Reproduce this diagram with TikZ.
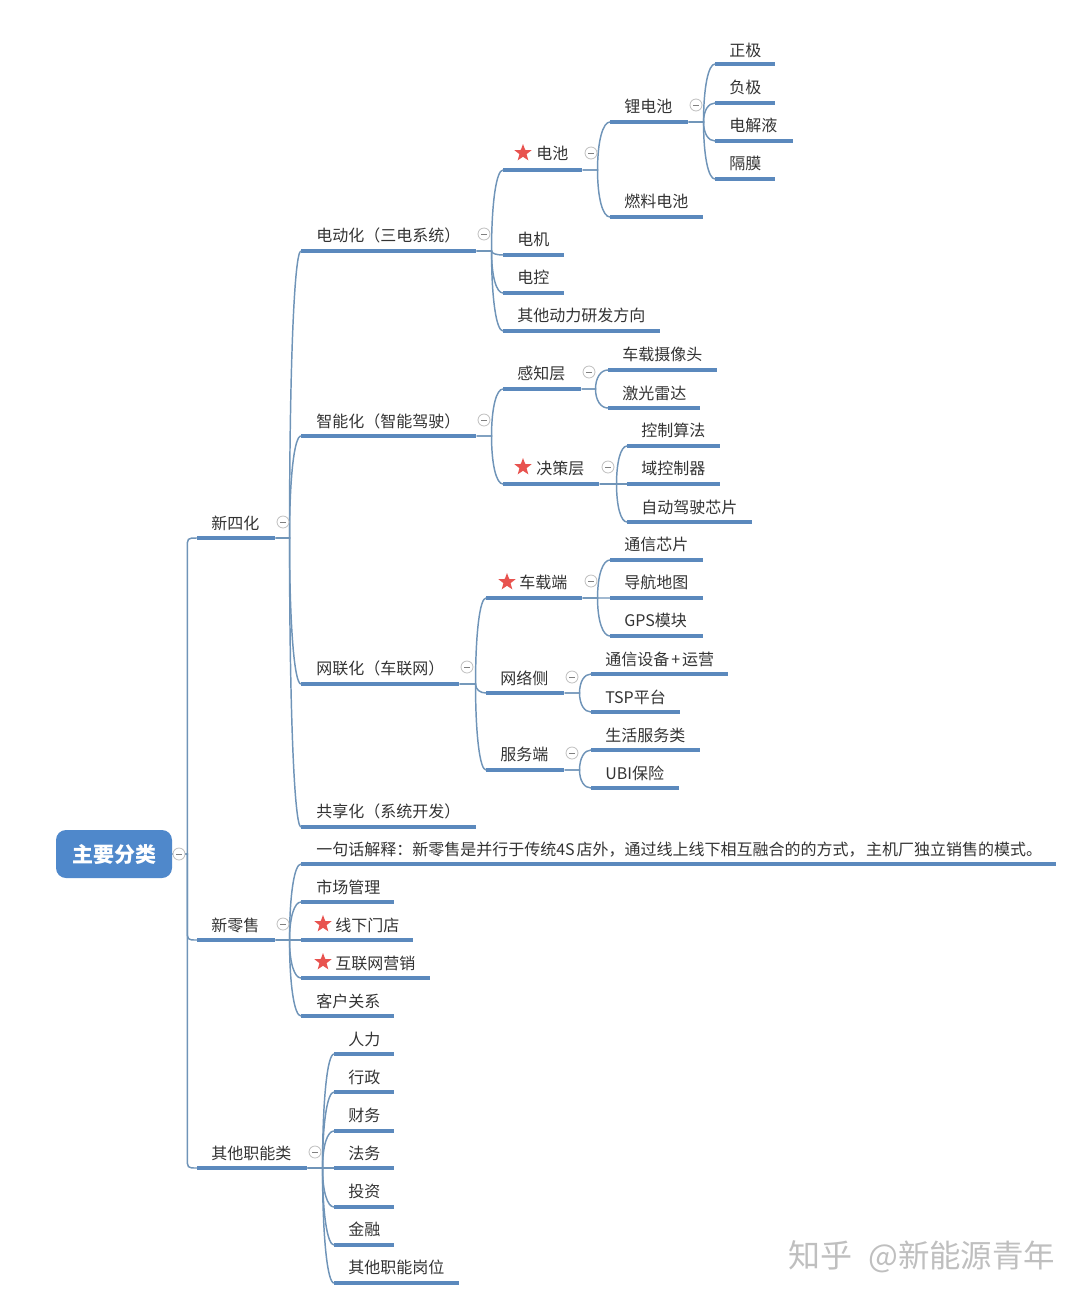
\documentclass[tikz,border=0pt]{standalone}
\usepackage{fontspec}
\setmainfont{Noto Sans CJK SC}
\usetikzlibrary{shapes.geometric,calc}
\definecolor{barblue}{HTML}{5B89BD}
\definecolor{linkblue}{HTML}{6F94B8}
\definecolor{rootblue}{HTML}{4F88CB}
\definecolor{inkgray}{HTML}{333333}
\definecolor{starred}{HTML}{E8534F}
\tikzset{
  bar/.style={rectangle,fill=barblue,inner sep=0pt,minimum height=3pt,anchor=west,minimum width=#1*0.75pt},
  lab/.style={anchor=west,inner sep=0pt,text=inkgray,font=\fontsize{12}{12}\selectfont},
  mark star/.style={star,star points=5,star point ratio=2.4,fill=starred,inner sep=0pt,minimum size=13.5pt},
  fold/.style={circle,draw=gray!50,fill=white,line width=0.6pt,inner sep=0pt,minimum size=9pt,text=gray},
  link/.style={draw=linkblue,line width=1.1pt},
  branch/.style={to path={(\tikztostart.east) -- ++(#1,0) coordinate (j) .. controls ($(j)!0.6!(j |- \tikztotarget.west)$) and ($(\tikztotarget.west)!0.58!(j |- \tikztotarget.west)$) .. (\tikztotarget.west)}},
  trunk/.style={to path={(\tikztostart.east) -- ++(#1,0) coordinate (j) -- ($(j |- \tikztotarget.west)!8pt!(j)$) .. controls (j |- \tikztotarget.west) .. (\tikztotarget.west)}},
}
\newcommand{\foldminus}{\rule[0pt]{4.5pt}{0.6pt}}
\begin{document}
\begin{tikzpicture}[x=0.75pt,y=-0.75pt]
\useasboundingbox (0,0) rectangle (1080,1300);
% root
\node (r) [rectangle,rounded corners=7.5pt,fill=rootblue,text=white,minimum width=87pt,minimum height=36pt,inner sep=0pt,font=\fontsize{15.75}{16}\selectfont\bfseries] at (114,854) {主要分类};
% first level
\node (s1) [bar=78] at (197,538) {};
\node (s2) [bar=78] at (197,940) {};
\node (s3) [bar=110] at (197,1168) {};
\node (s1t) [lab] at (211,523) {新四化};
\node (s2t) [lab] at (211,925) {新零售};
\node (s3t) [lab] at (211,1153) {其他职能类};
% four directions
\node (s11) [bar=175] at (301,251) {};
\node (s12) [bar=175] at (301,436) {};
\node (s13) [bar=158] at (301,684) {};
\node (s14) [bar=175] at (301,827) {};
\node (s11t) [lab] at (316,235) {电动化（三电系统）};
\node (s12t) [lab] at (316,421) {智能化（智能驾驶）};
\node (s13t) [lab] at (316,668) {网联化（车联网）};
\node (s14t) [lab] at (316,811) {共享化（系统开发）};
% three electric
\node (s111) [bar=79] at (503,170) {};
\node (s112) [bar=61] at (503,255) {};
\node (s113) [bar=61] at (503,293) {};
\node (s114) [bar=157] at (503,331) {};
\node (s111s) [mark star] at (523,153) {};
\node (s111t) [lab] at (536,153) {电池};
\node (s112t) [lab] at (517,239) {电机};
\node (s113t) [lab] at (517,277) {电控};
\node (s114t) [lab] at (517,315) {其他动力研发方向};
\node (s1111) [bar=78] at (610,122) {};
\node (s1112) [bar=93] at (610,217) {};
\node (s1111t) [lab] at (624,106) {锂电池};
\node (s1112t) [lab] at (624,201) {燃料电池};
\node (s11111) [bar=60] at (715,64) {};
\node (s11112) [bar=60] at (715,103) {};
\node (s11113) [bar=78] at (715,141) {};
\node (s11114) [bar=60] at (715,179) {};
\node (s11111t) [lab] at (729,50) {正极};
\node (s11112t) [lab] at (729,87) {负极};
\node (s11113t) [lab] at (729,125) {电解液};
\node (s11114t) [lab] at (729,163) {隔膜};
% smart driving
\node (s121) [bar=78] at (503,389) {};
\node (s122) [bar=96] at (503,484) {};
\node (s121t) [lab] at (517,373) {感知层};
\node (s122s) [mark star] at (523,467) {};
\node (s122t) [lab] at (536,468) {决策层};
\node (s1211) [bar=109] at (608,370) {};
\node (s1212) [bar=92] at (608,408) {};
\node (s1211t) [lab] at (622,354) {车载摄像头};
\node (s1212t) [lab] at (622,393) {激光雷达};
\node (s1221) [bar=93] at (627,446) {};
\node (s1222) [bar=93] at (627,484) {};
\node (s1223) [bar=125] at (627,522) {};
\node (s1221t) [lab] at (641,430) {控制算法};
\node (s1222t) [lab] at (641,468) {域控制器};
\node (s1223t) [lab] at (641,507) {自动驾驶芯片};
% connected car
\node (s131) [bar=96] at (486,598) {};
\node (s132) [bar=78] at (486,693) {};
\node (s133) [bar=78] at (486,770) {};
\node (s131s) [mark star] at (507,582) {};
\node (s131t) [lab] at (519,582) {车载端};
\node (s132t) [lab] at (500,678) {网络侧};
\node (s133t) [lab] at (500,754) {服务端};
\node (s1311) [bar=93] at (610,560) {};
\node (s1312) [bar=93] at (610,598) {};
\node (s1313) [bar=93] at (610,636) {};
\node (s1311t) [lab] at (624,544) {通信芯片};
\node (s1312t) [lab] at (624,582) {导航地图};
\node (s1313t) [lab] at (624,620) {GPS模块};
\node (s1321) [bar=137] at (591,674) {};
\node (s1322) [bar=89] at (591,712) {};
\node (s1321t) [lab] at (605,659) {通信设备\kern1.5pt+\kern1.5pt运营};
\node (s1322t) [lab] at (605,697) {TSP平台};
\node (s1331) [bar=109] at (591,750) {};
\node (s1332) [bar=88] at (591,788) {};
\node (s1331t) [lab] at (605,735) {生活服务类};
\node (s1332t) [lab] at (605,773) {UBI保险};
% retail
\node (s21) [bar=755] at (301,864) {};
\node (s22) [bar=93] at (301,902) {};
\node (s23) [bar=112] at (301,940) {};
\node (s24) [bar=129] at (301,978) {};
\node (s25) [bar=93] at (301,1016) {};
\node (s21t) [lab] at (316,850) {一句话解释：新零售是并行于传统4S\kern1.5pt店外，通过线上线下相互融合的的方式，\kern1pt主机厂独立销售的模式。};
\node (s22t) [lab] at (316,887) {市场管理};
\node (s23s) [mark star] at (323,924) {};
\node (s23t) [lab] at (335,925) {线下门店};
\node (s24s) [mark star] at (323,962) {};
\node (s24t) [lab] at (335,963) {互联网营销};
\node (s25t) [lab] at (316,1001) {客户关系};
% other functions
\node (s31) [bar=60] at (334,1054) {};
\node (s32) [bar=60] at (334,1092) {};
\node (s33) [bar=60] at (334,1131) {};
\node (s34) [bar=60] at (334,1168) {};
\node (s35) [bar=60] at (334,1207) {};
\node (s36) [bar=60] at (334,1245) {};
\node (s37) [bar=125] at (334,1283) {};
\node (s31t) [lab] at (348,1039) {人力};
\node (s32t) [lab] at (348,1077) {行政};
\node (s33t) [lab] at (348,1115) {财务};
\node (s34t) [lab] at (348,1153) {法务};
\node (s35t) [lab] at (348,1191) {投资};
\node (s36t) [lab] at (348,1229) {金融};
\node (s37t) [lab] at (348,1267) {其他职能岗位};
%
\path[link] (r) edge[trunk=15] (s1);
\path[link] (r) edge[trunk=15] (s2);
\path[link] (r) edge[trunk=15] (s3);
\path[link] (s1) edge[branch=14] (s11);
\path[link] (s1) edge[branch=14] (s12);
\path[link] (s1) edge[branch=14] (s13);
\path[link] (s1) edge[branch=14] (s14);
\path[link] (s11) edge[branch=15] (s111);
\path[link] (s11) edge[branch=15] (s112);
\path[link] (s11) edge[branch=15] (s113);
\path[link] (s11) edge[branch=15] (s114);
\path[link] (s111) edge[branch=15] (s1111);
\path[link] (s111) edge[branch=15] (s1112);
\path[link] (s1111) edge[branch=15] (s11111);
\path[link] (s1111) edge[branch=15] (s11112);
\path[link] (s1111) edge[branch=15] (s11113);
\path[link] (s1111) edge[branch=15] (s11114);
\path[link] (s12) edge[branch=15] (s121);
\path[link] (s12) edge[branch=15] (s122);
\path[link] (s121) edge[branch=14] (s1211);
\path[link] (s121) edge[branch=14] (s1212);
\path[link] (s122) edge[branch=17] (s1221);
\path[link] (s122) edge[branch=17] (s1222);
\path[link] (s122) edge[branch=17] (s1223);
\path[link] (s13) edge[branch=16] (s131);
\path[link] (s13) edge[branch=16] (s132);
\path[link] (s13) edge[branch=16] (s133);
\path[link] (s131) edge[branch=15] (s1311);
\path[link] (s131) edge[branch=15] (s1312);
\path[link] (s131) edge[branch=15] (s1313);
\path[link] (s132) edge[branch=15] (s1321);
\path[link] (s132) edge[branch=15] (s1322);
\path[link] (s133) edge[branch=15] (s1331);
\path[link] (s133) edge[branch=15] (s1332);
\path[link] (s2) edge[branch=14] (s21);
\path[link] (s2) edge[branch=14] (s22);
\path[link] (s2) edge[branch=14] (s23);
\path[link] (s2) edge[branch=14] (s24);
\path[link] (s2) edge[branch=14] (s25);
\path[link] (s3) edge[branch=15] (s31);
\path[link] (s3) edge[branch=15] (s32);
\path[link] (s3) edge[branch=15] (s33);
\path[link] (s3) edge[branch=15] (s34);
\path[link] (s3) edge[branch=15] (s35);
\path[link] (s3) edge[branch=15] (s36);
\path[link] (s3) edge[branch=15] (s37);
% fold marks
\node (r0) [fold] at (179,854) {\foldminus};
\node (s10) [fold] at (283,522) {\foldminus};
\node (s20) [fold] at (283,924) {\foldminus};
\node (s30) [fold] at (315,1152) {\foldminus};
\node (s110) [fold] at (484,234) {\foldminus};
\node (s120) [fold] at (484,420) {\foldminus};
\node (s130) [fold] at (467,667) {\foldminus};
\node (s1110) [fold] at (591,153) {\foldminus};
\node (s11110) [fold] at (696,105) {\foldminus};
\node (s1210) [fold] at (589,372) {\foldminus};
\node (s1220) [fold] at (608,467) {\foldminus};
\node (s1310) [fold] at (591,581) {\foldminus};
\node (s1320) [fold] at (572,677) {\foldminus};
\node (s1330) [fold] at (572,753) {\foldminus};
% watermark
\node (wm) [anchor=west,inner sep=0pt,text=gray!50,font=\fontsize{24}{24}\selectfont] at (788,1257) {知乎\hspace{12pt}\fontsize{23.6}{24}\selectfont @新能源青年};
\end{tikzpicture}
\end{document}
